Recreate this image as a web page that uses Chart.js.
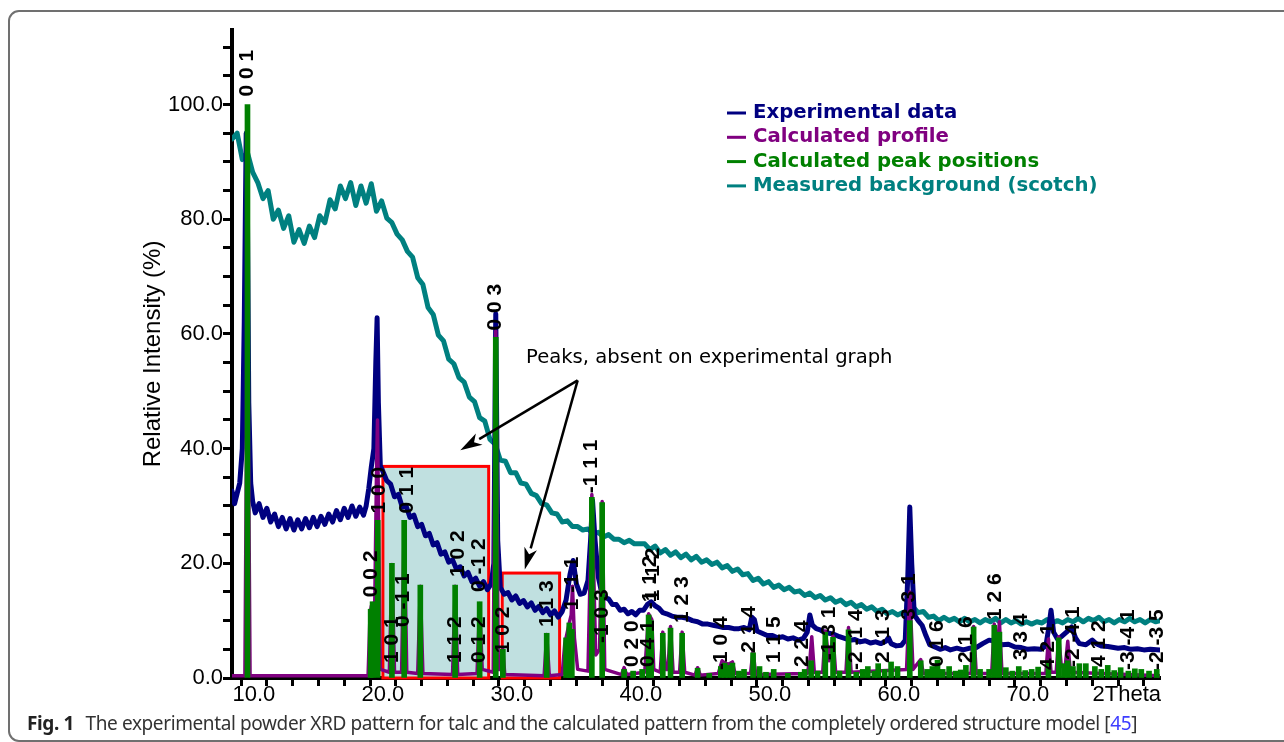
<!DOCTYPE html>
<html lang="en">
<head>
  <meta charset="UTF-8" />
  <title>Talc XRD pattern</title>
  <script src="https://cdn.jsdelivr.net/npm/chart.js"></script>
  <style>
    body {
      margin: 0;
      background: #fff;
      width: 1284px;
      height: 742px;
      overflow: hidden;
      position: relative;
    }
    .frame {
      position: absolute;
      left: 8px;
      top: 10px;
      width: 1320px;
      height: 732px;
      border: 2px solid #707070;
      border-radius: 11px;
      box-sizing: border-box;
    }
    #xrd {
      position: absolute;
      left: 0;
      top: 0;
    }
    #caption {
      position: absolute;
      left: 27px;
      top: 714px;
      font-family: "Noto Sans", sans-serif;
      font-size: 19px;
      line-height: 1;
      color: #333;
      white-space: nowrap;
    }
    #caption b {
      color: #222;
      margin-right: 7px;
    }
    #caption .ref {
      color: #3d3dff;
    }
  </style>
</head>
<body>
  <div class="frame"></div>
  <canvas id="xrd" width="1284" height="742"></canvas>
  <div id="caption"><b>Fig. 1</b> The experimental powder XRD pattern for talc and the calculated pattern from the completely ordered structure model [<span class="ref">45</span>]</div>

  <script>
    // experimental scan (navy)
    const expTheta = [
      8.3, 8.5, 8.7, 8.9, 9.1, 9.25, 9.4, 9.5, 9.6, 9.75,
      9.9, 10.1, 10.4, 10.7, 11.0, 11.3, 11.6, 11.9, 12.2, 12.5,
      12.8, 13.1, 13.4, 13.7, 14.0, 14.3, 14.6, 14.9, 15.2, 15.5,
      15.8, 16.1, 16.4, 16.7, 17.0, 17.3, 17.6, 17.9, 18.2, 18.5,
      18.7, 18.9, 19.1, 19.3, 19.45, 19.55, 19.65, 19.8, 20.0, 20.3,
      20.6, 20.9, 21.2, 21.5, 21.8, 22.1, 22.4, 22.7, 23.0, 23.3,
      23.6, 23.9, 24.2, 24.5, 24.8, 25.1, 25.4, 25.7, 26.0, 26.3,
      26.6, 26.9, 27.2, 27.5, 27.8, 28.1, 28.4, 28.6, 28.75, 28.9,
      29.1, 29.4, 29.7, 30.0, 30.3, 30.6, 30.9, 31.2, 31.5, 31.8,
      32.1, 32.4, 32.7, 33.0, 33.3, 33.6, 33.9, 34.2, 34.5, 34.75,
      35.0, 35.3, 35.6, 35.9, 36.1, 36.25, 36.45, 36.7, 36.95, 37.2,
      37.5, 37.8, 38.1, 38.4, 38.7, 39.0, 39.3, 39.6, 39.9, 40.2,
      40.5, 40.8, 41.1, 41.4, 41.7, 42.0, 42.4, 42.8, 43.2, 43.6,
      44.0, 44.4, 44.8, 45.2, 45.6, 46.0, 46.4, 46.8, 47.2, 47.6,
      48.0, 48.4, 48.6, 48.8, 49.0, 49.4, 49.8, 50.2, 50.6, 51.0,
      51.4, 51.8, 52.2, 52.6, 52.9, 53.1, 53.3, 53.6, 53.9, 54.2,
      54.6, 55.0, 55.4, 55.8, 56.2, 56.6, 57.0, 57.4, 57.8, 58.2,
      58.6, 59.0, 59.2, 59.4, 59.8, 60.2, 60.5, 60.7, 60.85, 61.0,
      61.2, 61.5, 61.8, 62.1, 62.4, 62.8, 63.2, 63.6, 64.0, 64.5,
      65.0, 65.5, 66.0, 66.5, 67.0, 67.5, 68.0, 68.5, 69.0, 69.5,
      70.0, 70.5, 71.0, 71.4, 71.6, 71.8, 72.0, 72.3, 72.6, 73.0,
      73.4, 73.7, 74.0, 74.5, 75.0, 75.3, 75.7, 76.2, 77.0, 77.5,
      78.0, 78.5, 79.0, 79.5, 80.25
    ];
    const expIntensity = [
      32.6, 30.4, 32.2, 34.0, 40.0, 62.0, 95.0, 80.0, 48.0, 34.0,
      30.8, 28.8, 30.4, 28.0, 29.6, 27.2, 28.6, 26.4, 28.0, 26.0,
      27.8, 25.8, 27.6, 26.0, 27.8, 26.2, 28.0, 26.4, 28.2, 26.8,
      28.6, 27.2, 29.2, 27.6, 29.6, 28.0, 30.0, 28.2, 29.8, 28.4,
      30.0, 33.0, 36.8, 40.0, 55.0, 62.8, 48.0, 37.0, 36.0, 34.4,
      33.8, 31.6, 32.0, 29.8, 30.0, 28.0, 28.4, 26.4, 26.8, 24.8,
      25.2, 23.2, 23.6, 21.6, 22.0, 20.2, 20.6, 19.0, 19.4, 17.8,
      18.4, 16.8, 17.4, 16.0, 16.8, 15.4, 16.4, 20.0, 63.5, 24.0,
      15.8, 14.6, 14.9, 13.6, 14.3, 13.0, 13.5, 12.4, 13.1, 11.8,
      12.5, 11.4, 12.1, 11.0, 11.7, 10.6, 11.6, 13.6, 18.0, 20.5,
      16.4, 14.6, 14.8, 17.0, 24.0, 31.0, 24.0, 17.6, 15.0, 14.0,
      13.8, 12.8, 12.8, 11.8, 12.0, 11.2, 11.6, 11.0, 11.8, 11.8,
      12.8, 13.3, 12.6, 12.2, 11.4, 11.2, 10.8, 10.6, 10.6, 10.4,
      10.0, 9.8, 9.4, 9.4, 9.2, 9.0, 8.8, 8.8, 8.6, 8.6,
      8.8, 8.4, 10.6, 10.2, 8.2, 7.8, 7.4, 7.4, 7.0, 7.2,
      6.8, 7.0, 6.6, 6.9, 8.0, 11.0, 9.2, 8.6, 8.4, 8.0,
      7.8, 7.6, 7.2, 6.9, 6.6, 6.7, 6.3, 6.5, 6.1, 6.3,
      6.0, 6.4, 7.0, 6.0, 5.6, 5.7, 6.6, 18.0, 29.8, 20.0,
      11.0, 10.0, 9.2, 7.4, 5.8, 5.4, 5.0, 5.3, 4.9, 5.2,
      4.9, 5.2, 5.3, 6.0, 6.6, 6.4, 5.8, 5.9, 5.4, 5.3,
      5.0, 5.1, 5.0, 5.6, 8.4, 11.8, 8.0, 6.8, 7.2, 8.0,
      8.9, 7.0, 6.0, 5.8, 6.6, 6.0, 5.6, 5.5, 5.2, 5.3,
      5.0, 5.1, 4.9, 5.0, 4.9
    ];

    // calculated profile (purple)
    const calcTheta = [
      8.3, 9.3, 9.42, 9.5, 9.58, 9.7, 18.85, 19.0, 19.1, 19.2,
      19.35, 19.5, 19.58, 19.68, 19.8, 20.5, 20.7, 20.9, 21.45, 21.65,
      21.85, 22.7, 22.9, 23.1, 25.4, 25.6, 25.8, 27.3, 27.5, 27.7,
      28.55, 28.75, 28.95, 29.2, 29.3, 29.45, 32.5, 32.7, 32.9, 33.9,
      34.1, 34.25, 34.45, 34.6, 34.7, 34.85, 35.1, 35.9, 36.2, 36.5,
      36.8, 37.0, 37.2, 38.5, 38.7, 38.9, 40.3, 40.6, 40.85, 41.0,
      41.5, 41.7, 41.9, 42.1, 42.3, 42.5, 43.0, 43.2, 43.4, 44.2,
      44.4, 44.6, 46.0, 46.3, 46.5, 46.8, 47.1, 47.3, 48.5, 48.7,
      48.9, 52.9, 53.1, 53.25, 53.45, 54.1, 54.3, 54.6, 54.9, 55.1,
      55.9, 56.1, 56.3, 60.6, 60.85, 61.1, 61.7, 61.9, 65.6, 65.8,
      66.0, 67.2, 67.4, 67.6, 67.8, 68.0, 71.4, 71.6, 71.8, 72.2,
      72.4, 72.6, 72.9, 73.1, 73.3, 80.25
    ];
    const calcIntensity = [
      0.4, 0.4, 40, 99, 40, 0.4, 0.4, 11, 12.5, 13,
      10, 35, 45, 25, 1.5, 1, 19.8, 1, 1, 27.2,
      1, 0.8, 16, 0.8, 0.6, 16, 0.6, 0.8, 13, 1.5,
      1, 60.5, 1.5, 1.5, 5, 0.6, 0.4, 7.6, 0.4, 0.6,
      6, 7.5, 9.6, 11, 16, 7, 1.5, 1.2, 32, 4,
      5, 30.8, 1.5, 0.6, 1.8, 0.6, 1, 11.2, 10.2, 1.5,
      1, 8, 1.5, 1.5, 9, 1, 1, 8, 1, 0.5,
      1.8, 0.5, 0.8, 3, 2.6, 2.4, 2.8, 0.8, 0.8, 4.8,
      0.6, 0.8, 3, 7.2, 1, 1, 8.2, 3, 7.3, 1,
      1, 8.8, 1, 1.5, 15, 1.5, 3.2, 0.8, 0.8, 9,
      0.8, 0.8, 9.4, 4, 9.8, 0.8, 0.8, 6.8, 1, 1,
      7.2, 2, 2, 6.4, 1, 0.4
    ];

    // calculated peak positions (green)
    const peakTheta = [
      9.5, 19.05, 19.2, 19.6, 20.7, 21.65, 22.9, 25.6, 27.5, 28.75,
      29.3, 32.7, 34.2, 34.45, 34.65, 36.2, 37.0, 38.7, 39.4, 40.1,
      40.6, 40.8, 41.7, 42.3, 43.2, 44.4, 45.3, 46.2, 46.5, 46.8,
      47.1, 47.6, 48.0, 48.7, 49.2, 49.7, 50.3, 51.4, 52.4, 52.7,
      53.2, 53.7, 54.3, 54.9, 55.4, 56.1, 56.7, 57.2, 57.6, 58.1,
      58.4, 58.9, 59.4, 59.9, 60.85, 61.7, 62.2, 62.6, 63.0, 63.4,
      63.9, 64.4, 64.8, 65.2, 65.8, 66.3, 67.0, 67.4, 67.8, 68.3,
      68.8, 69.3, 69.8, 70.3, 70.8, 71.6, 72.4, 72.8, 73.1, 73.5,
      74.0, 74.5, 75.2, 75.7, 76.2, 76.7, 77.2, 77.8, 78.3, 78.8,
      79.4, 80.0
    ];
    const peakHeight = [
      100, 12, 13.3, 27.5, 20, 27.5, 16.2, 16.2, 13.3, 59.4,
      5, 7.8, 7, 9.6, 8.5, 31.5, 30.6, 1.5, 1.2, 1.5,
      11, 10, 7.8, 8.7, 7.8, 1.7, 0.8, 2, 2.6, 2.2,
      2.6, 1.2, 1.5, 4.4, 2, 1, 1.5, 0.8, 1, 1.5,
      3, 1.2, 8, 7.1, 1.2, 8.4, 1, 1.5, 2, 1.2,
      2.5, 1.5, 2.8, 2, 10, 3, 1.5, 2, 3.1, 1.5,
      2, 1.2, 1.4, 2.2, 8.9, 1.5, 1.5, 9.2, 8, 1.8,
      1.2, 2, 1.3, 1.5, 1.9, 3, 7, 2.5, 3, 2,
      2.5, 2.5, 2, 1.5, 2.2, 1.3, 1.8, 1.2, 1.6, 1.5,
      1.2, 1.5
    ];

    // measured background, scotch tape (teal)
    const bgTheta = [
      8.3, 8.7, 9.1, 9.5, 9.9, 10.3, 10.7, 11.1, 11.5, 11.9,
      12.3, 12.7, 13.1, 13.5, 13.9, 14.3, 14.7, 15.1, 15.5, 15.9,
      16.3, 16.7, 17.1, 17.5, 17.9, 18.3, 18.7, 19.1, 19.5, 19.9,
      20.3, 20.7, 21.1, 21.5, 21.9, 22.3, 22.7, 23.1, 23.5, 23.9,
      24.3, 24.7, 25.1, 25.5, 25.9, 26.3, 26.7, 27.1, 27.5, 27.9,
      28.3, 28.7, 29.1, 29.5, 29.9, 30.3, 30.7, 31.1, 31.5, 31.9,
      32.3, 32.7, 33.1, 33.5, 33.9, 34.3, 34.7, 35.1, 35.5, 35.9,
      36.3, 36.7, 37.1, 37.5, 37.9, 38.3, 38.7, 39.1, 39.5, 39.9,
      40.3, 40.7, 41.1, 41.5, 41.9, 42.3, 42.7, 43.1, 43.5, 43.9,
      44.3, 44.7, 45.1, 45.5, 45.9, 46.3, 46.7, 47.1, 47.5, 47.9,
      48.3, 48.7, 49.1, 49.5, 49.9, 50.3, 50.7, 51.1, 51.5, 51.9,
      52.3, 52.7, 53.1, 53.5, 53.9, 54.3, 54.7, 55.1, 55.5, 55.9,
      56.3, 56.7, 57.1, 57.5, 57.9, 58.3, 58.7, 59.1, 59.5, 59.9,
      60.3, 60.7, 61.1, 61.5, 61.9, 62.3, 62.7, 63.1, 63.5, 63.9,
      64.3, 64.7, 65.1, 65.5, 65.9, 66.3, 66.7, 67.1, 67.5, 67.9,
      68.3, 68.7, 69.1, 69.5, 69.9, 70.3, 70.7, 71.1, 71.5, 71.9,
      72.3, 72.7, 73.1, 73.5, 73.9, 74.3, 74.7, 75.1, 75.5, 75.9,
      76.3, 76.7, 77.1, 77.5, 77.9, 78.3, 78.7, 79.1, 79.5, 79.9,
      80.25
    ];
    const bgIntensity = [
      94.0, 95.0, 90.4, 91.6, 88.2, 86.4, 83.6, 85.0, 80.0, 81.6,
      78.4, 80.6, 76.0, 78.2, 75.8, 78.8, 76.8, 80.6, 79.4, 83.4,
      81.8, 85.8, 83.6, 86.4, 82.4, 85.8, 82.8, 86.2, 81.4, 83.2,
      80.2, 79.4, 77.4, 76.4, 74.4, 73.4, 69.8, 68.6, 64.6, 63.4,
      59.8, 58.8, 55.6, 54.8, 52.4, 51.6, 49.0, 48.2, 45.4, 44.8,
      41.6, 40.8, 38.0, 37.8, 35.8, 35.8, 34.0, 33.8, 32.2, 31.8,
      30.4, 30.2, 28.8, 28.6, 27.2, 27.4, 26.4, 26.4, 25.8, 26.0,
      25.2, 25.4, 24.6, 25.0, 24.2, 24.2, 23.6, 24.0, 23.4, 23.4,
      23.4, 22.4, 23.0, 21.8, 22.4, 21.4, 22.0, 21.0, 21.6, 20.6,
      21.2, 20.2, 20.6, 19.8, 20.2, 19.2, 19.6, 18.6, 19.0, 18.0,
      18.2, 17.0, 17.4, 16.4, 16.8, 15.8, 16.2, 15.4, 15.8, 15.0,
      15.2, 14.4, 14.8, 14.0, 14.4, 13.6, 14.0, 13.2, 13.6, 12.8,
      13.2, 12.4, 12.8, 12.0, 12.4, 11.6, 12.0, 11.2, 11.6, 11.0,
      11.4, 11.2, 12.4, 11.4, 11.6, 10.6, 10.8, 10.0, 10.6, 10.0,
      10.4, 9.8, 10.4, 9.8, 10.2, 9.6, 10.2, 9.8, 10.4, 9.6,
      10.2, 9.6, 10.0, 9.4, 9.8, 9.4, 9.8, 9.6, 10.2, 9.6,
      10.0, 9.6, 10.2, 9.8, 10.4, 9.8, 10.4, 10.0, 10.6, 9.8,
      10.2, 9.6, 10.2, 9.8, 10.4, 9.8, 10.2, 9.6, 10.2, 9.8,
      10.0
    ];

    // hkl labels: text, 2theta, intensity where the rotated text starts
    const hklText = [
      "0 0 1", "0 0 2", "1 0 0", "1 0 1", "0 1 1", "0 -1 1", "1 0 2", "1 1 2", "0 -1 2", "0 1 2",
      "0 0 3", "1 0 2", "1 1 3", "1 -1 1", "-1 1 1", "-1 0 3", "0 2 0", "0 4 1", "-1 1 2", "1 -1 2",
      "1 2 3", "-1 0 4", "2 1 4", "1 1 5", "2 2 4", "-1 3 1", "-2 -1 4", "2 -1 3", "3 3 1", "0 1 6",
      "2 1 6", "1 2 6", "3 3 4", "4 2 1", "-2 -4 1", "4 1 2", "-3 -4 1", "-2 -3 5"
    ];
    const hklTheta = [
      9.5, 19.1, 19.7, 20.7, 21.85, 21.6, 25.8, 25.6, 27.45, 27.45,
      28.7, 29.3, 32.7, 34.7, 36.15, 37.0, 39.35, 40.6, 40.7, 40.95,
      43.2, 46.2, 48.4, 50.3, 52.5, 54.6, 56.7, 58.8, 60.8, 63.0,
      65.2, 67.5, 69.5, 71.6, 73.5, 75.5, 77.8, 80.0
    ];
    const hklBase = [
      101.4, 14.1, 28.7, 2.6, 28.7, 8.9, 17.6, 2.6, 15.0, 2.6,
      60.6, 4.3, 8.9, 11.8, 32.2, 6.1, 1.9, 1.9, 12.0, 13.4,
      9.6, 1.4, 4.4, 2.6, 1.9, 3.1, 1.4, 2.6, 10.1, 1.9,
      2.6, 10.1, 3.1, 1.4, 1.9, 1.9, 1.4, 1.4
    ];

    // shaded regions of peaks that are absent in the experiment
    const boxFrom = [20.0, 29.25];
    const boxTo = [28.2, 33.7];
    const boxTop = [36.9, 18.3];

    const noteText = "Peaks, absent on experimental graph";
    const notePos = [31.1, 54.9];
    const arrowStart = [35.1, 51.9];
    const arrowTips = [[26.0, 39.7], [31.0, 18.9]];

    const toXY = (xs, ys) => xs.map((x, i) => ({ x: x, y: ys[i] }));

    const overlay = {
      id: 'overlay',
      beforeDatasetsDraw(chart) {
        const { ctx, scales: { x, y } } = chart;
        ctx.save();
        boxFrom.forEach((from, i) => {
          const l = x.getPixelForValue(from);
          const r = x.getPixelForValue(boxTo[i]);
          const t = y.getPixelForValue(boxTop[i]);
          const b = y.getPixelForValue(0);
          ctx.fillStyle = '#c0e0e0';
          ctx.fillRect(l, t, r - l, b - t);
          ctx.strokeStyle = '#ff0000';
          ctx.lineWidth = 3;
          ctx.strokeRect(l, t, r - l, b - t);
        });
        ctx.restore();
      },
      afterDatasetsDraw(chart) {
        const { ctx, scales: { x, y } } = chart;
        ctx.save();
        // hkl labels
        ctx.fillStyle = '#000';
        ctx.font = 'bold 21px "Liberation Sans"';
        ctx.textAlign = 'left';
        ctx.textBaseline = 'middle';
        hklText.forEach((txt, i) => {
          ctx.save();
          ctx.translate(x.getPixelForValue(hklTheta[i]), y.getPixelForValue(hklBase[i]));
          ctx.rotate(-Math.PI / 2);
          ctx.fillText(txt, 0, 0);
          ctx.restore();
        });
        // note and arrows
        ctx.font = '19.6px "DejaVu Sans"';
        ctx.textBaseline = 'alphabetic';
        ctx.fillText(noteText, x.getPixelForValue(notePos[0]), y.getPixelForValue(notePos[1]));
        const sx = x.getPixelForValue(arrowStart[0]);
        const sy = y.getPixelForValue(arrowStart[1]);
        ctx.strokeStyle = '#000';
        ctx.lineWidth = 2.5;
        arrowTips.forEach(tip => {
          const tx = x.getPixelForValue(tip[0]);
          const ty = y.getPixelForValue(tip[1]);
          const a = Math.atan2(ty - sy, tx - sx);
          const len = 22, half = 6.5;
          const bx = tx - len * Math.cos(a), by = ty - len * Math.sin(a);
          ctx.beginPath();
          ctx.moveTo(sx, sy);
          ctx.lineTo(bx, by);
          ctx.stroke();
          ctx.beginPath();
          ctx.moveTo(tx, ty);
          ctx.lineTo(bx + half * Math.sin(a), by - half * Math.cos(a));
          ctx.lineTo(tx - (len - 6) * Math.cos(a), ty - (len - 6) * Math.sin(a));
          ctx.lineTo(bx - half * Math.sin(a), by + half * Math.cos(a));
          ctx.closePath();
          ctx.fill();
        });
        ctx.restore();
      },
      afterDraw(chart) {
        const { ctx, chartArea, scales: { x } } = chart;
        ctx.save();
        // axis end label
        ctx.fillStyle = '#000';
        ctx.font = '22px "Liberation Sans"';
        ctx.textAlign = 'right';
        ctx.textBaseline = 'middle';
        ctx.fillText('2Theta', chartArea.right + 1, x.top + 17);
        // legend inside the plot
        ctx.font = 'bold 19.7px "DejaVu Sans"';
        ctx.textAlign = 'left';
        chart.data.datasets.forEach((ds, i) => {
          const ly = 113 + i * 24.3;
          ctx.strokeStyle = ds.borderColor;
          ctx.fillStyle = ds.borderColor;
          ctx.lineWidth = 3;
          ctx.beginPath();
          ctx.moveTo(727, ly);
          ctx.lineTo(746, ly);
          ctx.stroke();
          ctx.fillText(ds.label, 753, ly);
        });
        ctx.restore();
      }
    };

    const tickFont = { family: 'Liberation Sans', size: 22 };

    new Chart(document.getElementById('xrd'), {
      type: 'line',
      data: {
        datasets: [
          {
            label: 'Experimental data',
            data: toXY(expTheta, expIntensity),
            borderColor: '#000080',
            borderWidth: 5,
            order: 2
          },
          {
            label: 'Calculated profile',
            data: toXY(calcTheta, calcIntensity),
            borderColor: '#800080',
            borderWidth: 3.5,
            order: 1
          },
          {
            type: 'bar',
            label: 'Calculated peak positions',
            data: toXY(peakTheta, peakHeight),
            borderColor: '#008000',
            backgroundColor: '#008000',
            borderWidth: 0,
            barThickness: 5,
            grouped: false,
            order: 0
          },
          {
            label: 'Measured background (scotch)',
            data: toXY(bgTheta, bgIntensity),
            borderColor: '#008080',
            borderWidth: 5,
            order: 3
          }
        ]
      },
      options: {
        responsive: false,
        animation: false,
        events: [],
        layout: { padding: { left: 0, top: 30, right: 124, bottom: 0 } },
        elements: {
          point: { radius: 0 },
          line: { tension: 0, fill: false, borderJoinStyle: 'round', borderCapStyle: 'round' }
        },
        plugins: {
          legend: { display: false },
          tooltip: { enabled: false }
        },
        scales: {
          x: {
            type: 'linear',
            min: 8.3,
            max: 80.25,
            offset: false,
            afterFit: s => { s.height = 64; },
            border: { display: true, color: '#000', width: 4 },
            grid: { drawOnChartArea: false, drawTicks: true, tickLength: 8, tickWidth: 3, tickColor: '#000' },
            ticks: {
              stepSize: 2,
              includeBounds: false,
              autoSkip: false,
              maxRotation: 0,
              padding: -4,
              color: '#000',
              font: tickFont,
              callback: v => (v % 10 === 0 && v <= 70) ? v.toFixed(1) : ''
            }
          },
          y: {
            min: 0,
            max: 113,
            afterFit: s => { s.width = 232; },
            border: { display: true, color: '#000', width: 4 },
            grid: { drawOnChartArea: false, drawTicks: true, tickLength: 9, tickWidth: 3, tickColor: '#000' },
            ticks: {
              stepSize: 5,
              includeBounds: false,
              autoSkip: false,
              padding: 0,
              color: '#000',
              font: tickFont,
              callback: v => (v % 20 === 0 && v <= 100) ? v.toFixed(1) : ''
            },
            title: {
              display: true,
              text: 'Relative Intensity (%)',
              color: '#000',
              font: { family: 'Liberation Sans', size: 24 },
              padding: { top: 139, bottom: 0 }
            }
          }
        }
      },
      plugins: [overlay]
    });

    // stretch the caption to the width it has in the figure
    const cap = document.getElementById('caption');
    const natural = cap.getBoundingClientRect().width;
    cap.style.letterSpacing = ((1110 - natural) / cap.textContent.length).toFixed(3) + 'px';
  </script>
</body>
</html>
